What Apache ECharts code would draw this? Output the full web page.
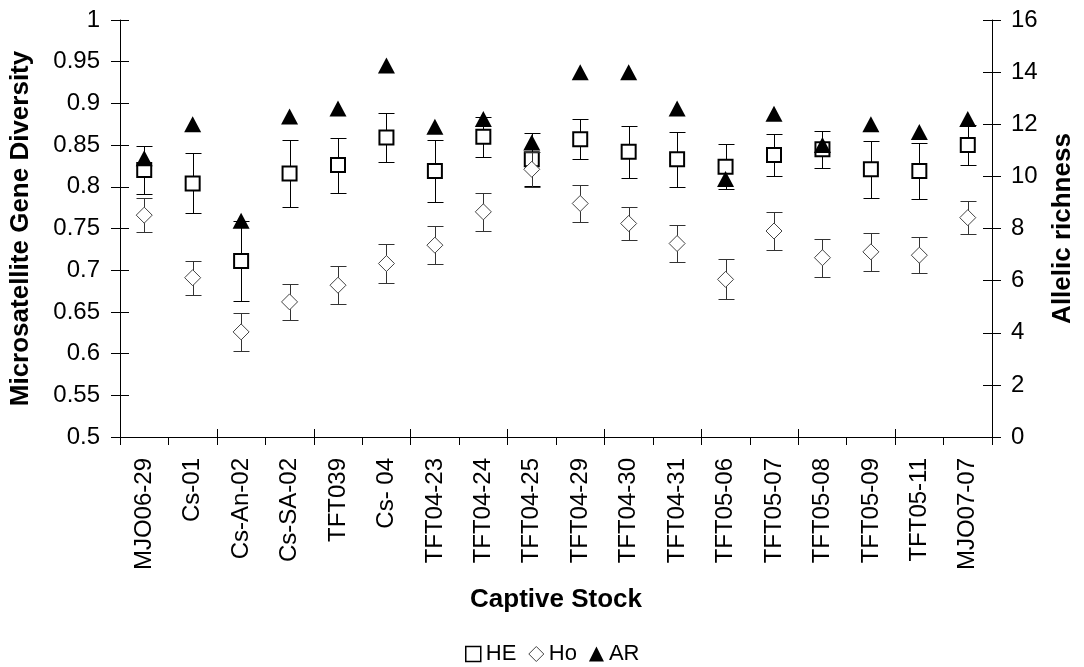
<!DOCTYPE html>
<html>
<head>
<meta charset="utf-8">
<script src="https://cdn.jsdelivr.net/npm/echarts@6/dist/echarts.min.js"></script>
<style>
html,body{margin:0;padding:0;background:#fff;}
#chart{width:1084px;height:667px;}
</style>
</head>
<body>
<div id="chart"></div>
<script>
var categories = ['MJO06-29','Cs-01','Cs-An-02','Cs-SA-02','TFT039','Cs- 04','TFT04-23','TFT04-24','TFT04-25','TFT04-29','TFT04-30','TFT04-31','TFT05-06','TFT05-07','TFT05-08','TFT05-09','TFT05-11','MJO07-07'];
var HE    = [0.820,0.804,0.711,0.816,0.826,0.859,0.819,0.860,0.833,0.857,0.842,0.833,0.824,0.838,0.845,0.821,0.819,0.850];
var HEerr = [0.029,0.036,0.048,0.040,0.033,0.029,0.037,0.024,0.032,0.024,0.031,0.033,0.027,0.025,0.022,0.034,0.034,0.024];
var Ho    = [0.766,0.691,0.626,0.662,0.682,0.708,0.730,0.770,0.821,0.780,0.756,0.732,0.689,0.747,0.715,0.722,0.718,0.763];
var HoErr = [0.0205,0.0205,0.023,0.0215,0.023,0.023,0.023,0.0225,0.021,0.022,0.020,0.0225,0.024,0.0225,0.023,0.0225,0.0215,0.020];
var AR    = [10.7,12.0,8.3,12.3,12.6,14.25,11.9,12.2,11.3,14.0,14.0,12.6,9.9,12.4,11.2,12.0,11.7,12.2];

var FONT = '"Liberation Sans", Arial, sans-serif';

function errData(vals, errs){
  return vals.map(function(v,k){ return [k, v - errs[k], v + errs[k]]; });
}
function errRender(color){
  return function(params, api){
    var i = api.value(0);
    var top = api.coord([i, api.value(2)]);
    var bot = api.coord([i, api.value(1)]);
    var x = Math.round(top[0]) + 0.5;
    var yt = Math.round(top[1]) + 0.5;
    var yb = Math.round(bot[1]) + 0.5;
    var hw = 8;
    var st = {stroke: color, lineWidth: 1};
    return {type:'group', children:[
      {type:'line', shape:{x1:x, y1:yt, x2:x, y2:yb}, style:st},
      {type:'line', shape:{x1:x-hw, y1:yt, x2:x+hw, y2:yt}, style:st},
      {type:'line', shape:{x1:x-hw, y1:yb, x2:x+hw, y2:yb}, style:st}
    ]};
  };
}

var chart = echarts.init(document.getElementById('chart'), null, {renderer:'canvas'});
var axisLineStyle = {color:'#000', width:1};
var option = {
  animation: false,
  backgroundColor: '#fff',
  textStyle: {fontFamily: FONT},
  grid: {left:120, right:86, top:20, bottom:230, containLabel:false},
  legend: {
    left: 460, top: 638,
    itemWidth: 15, itemHeight: 15, itemGap: 12,
    textStyle: {fontFamily: FONT, fontSize: 22, color:'#000'},
    data: [
      {name:'HE', icon:'rect', itemStyle:{color:'#fff', borderColor:'#000', borderWidth:1.5}},
      {name:'Ho', icon:'diamond', itemStyle:{color:'#fff', borderColor:'#444', borderWidth:1}},
      {name:'AR', icon:'triangle', itemStyle:{color:'#000', borderWidth:0}}
    ]
  },
  xAxis: [
    {
      type:'category', data: categories, position:'bottom', boundaryGap:true,
      axisLine:{show:true, lineStyle:axisLineStyle},
      axisTick:{show:true, length:8, inside:false, lineStyle:axisLineStyle},
      axisLabel:{rotate:90, margin:21, fontSize:24, color:'#000', fontFamily:FONT, interval:0},
      splitLine:{show:false},
      name:'Captive Stock', nameLocation:'middle', nameGap:150,
      nameTextStyle:{fontSize:26, fontWeight:'bold', color:'#000', fontFamily:FONT}
    },
    {
      type:'category', data: categories, position:'bottom', boundaryGap:true,
      axisLine:{show:false},
      axisTick:{show:true, length:8, inside:true, lineStyle:axisLineStyle},
      axisLabel:{show:false}, splitLine:{show:false}
    }
  ],
  yAxis: [
    {
      type:'value', position:'left', min:0.5, max:1, interval:0.05,
      axisLine:{show:true, lineStyle:axisLineStyle},
      axisTick:{show:true, length:9, inside:false, lineStyle:axisLineStyle},
      axisLabel:{margin:20, fontSize:24, color:'#000', fontFamily:FONT},
      splitLine:{show:false},
      name:'Microsatellite Gene Diversity', nameLocation:'middle', nameGap:86, nameRotate:90,
      nameTextStyle:{fontSize:26, fontWeight:'bold', color:'#000', fontFamily:FONT}
    },
    {
      type:'value', position:'right', min:0, max:16, interval:2,
      axisLine:{show:true, lineStyle:axisLineStyle},
      axisTick:{show:true, length:9, inside:false, lineStyle:axisLineStyle},
      axisLabel:{margin:19, fontSize:24, color:'#000', fontFamily:FONT},
      splitLine:{show:false},
      name:'Allelic richness', nameLocation:'middle', nameGap:58, nameRotate:90,
      nameTextStyle:{fontSize:26, fontWeight:'bold', color:'#000', fontFamily:FONT}
    },
    {
      type:'value', position:'left', min:0.5, max:1, interval:0.05,
      axisLine:{show:false},
      axisTick:{show:true, length:9, inside:true, lineStyle:axisLineStyle},
      axisLabel:{show:false}, splitLine:{show:false}
    },
    {
      type:'value', position:'right', min:0, max:16, interval:2,
      axisLine:{show:false},
      axisTick:{show:true, length:9, inside:true, lineStyle:axisLineStyle},
      axisLabel:{show:false}, splitLine:{show:false}
    }
  ],
  series: [
    {
      name:'HEerr', type:'custom', xAxisIndex:0, yAxisIndex:0,
      data: errData(HE, HEerr), encode:{x:0, y:[1,2]},
      renderItem: errRender('#000'), z:2, silent:true
    },
    {
      name:'HE', type:'scatter', xAxisIndex:0, yAxisIndex:0,
      data: HE, symbol:'rect', symbolSize:14,
      itemStyle:{color:'#fff', borderColor:'#000', borderWidth:2, opacity:1}, z:3
    },
    {
      name:'HoErr', type:'custom', xAxisIndex:0, yAxisIndex:0,
      data: errData(Ho, HoErr), encode:{x:0, y:[1,2]},
      renderItem: errRender('#333'), z:4, silent:true
    },
    {
      name:'Ho', type:'scatter', xAxisIndex:0, yAxisIndex:0,
      data: Ho, symbol:'diamond', symbolSize:[16,16],
      itemStyle:{color:'#fff', borderColor:'#444', borderWidth:1, opacity:1}, z:5
    },
    {
      name:'AR', type:'scatter', xAxisIndex:0, yAxisIndex:1,
      data: AR, symbol:'triangle', symbolSize:[17,16],
      itemStyle:{color:'#000', borderWidth:0, opacity:1}, z:6
    }
  ]
};
chart.setOption(option);
</script>
</body>
</html>
